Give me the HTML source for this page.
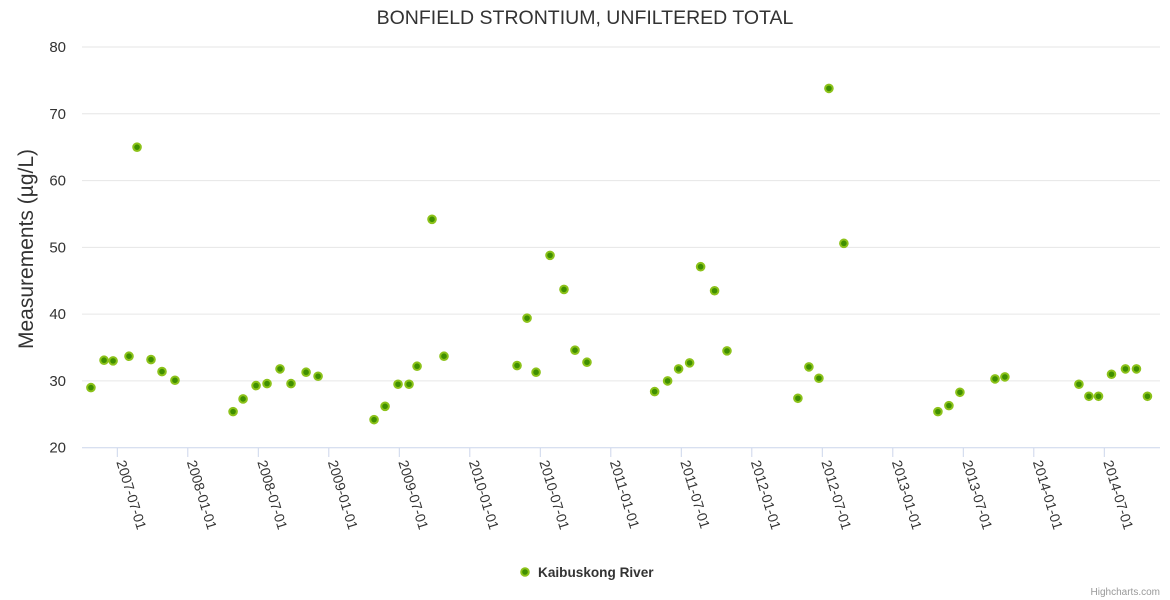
<!DOCTYPE html>
<html><head><meta charset="utf-8"><style>
body{margin:0;background:#fff;}
svg{display:block;font-family:"Liberation Sans",sans-serif;}
</style></head><body>
<svg id="chart" width="1170" height="600">
<text x="585" y="24" text-anchor="middle" font-size="19.5" fill="#333">BONFIELD STRONTIUM, UNFILTERED TOTAL</text>
<text transform="translate(33,249) rotate(-90)" text-anchor="middle" font-size="21" fill="#333">Measurements (µg/L)</text>
<g id="grid"></g><g id="xaxis"></g><g id="pts"></g>
<g>
<circle cx="525" cy="572" r="3.8" fill="#3f8f00" stroke="#8cc21a" stroke-width="2"/>
<text x="538" y="577" font-size="13.6" font-weight="bold" fill="#333">Kaibuskong River</text>
</g>
<text x="1160" y="595" text-anchor="end" font-size="10" fill="#999">Highcharts.com</text>
</svg>
<script>
const yTicks=[20,30,40,50,60,70,80];
const xTickLabels=["2007-07-01","2008-01-01","2008-07-01","2009-01-01","2009-07-01","2010-01-01","2010-07-01","2011-01-01","2011-07-01","2012-01-01","2012-07-01","2013-01-01","2013-07-01","2014-01-01","2014-07-01"];
const xTickYears=[2007.5,2008,2008.5,2009,2009.5,2010,2010.5,2011,2011.5,2012,2012.5,2013,2013.5,2014,2014.5];
const sampleYears=[2007.313,2007.406,2007.470,2007.583,2007.640,2007.739,2007.817,2007.909,2008.321,2008.392,2008.484,2008.562,2008.654,2008.732,2008.839,2008.924,2009.321,2009.399,2009.491,2009.569,2009.626,2009.732,2009.817,2010.335,2010.406,2010.470,2010.569,2010.668,2010.746,2010.831,2011.311,2011.403,2011.481,2011.559,2011.637,2011.736,2011.824,2012.327,2012.405,2012.476,2012.547,2012.653,2013.320,2013.398,2013.476,2013.725,2013.795,2014.320,2014.391,2014.459,2014.551,2014.650,2014.728,2014.806];
const values=[29.0,33.1,33.0,33.7,65.0,33.2,31.4,30.1,25.4,27.3,29.3,29.6,31.8,29.6,31.3,30.7,24.2,26.2,29.5,29.5,32.2,54.2,33.7,32.3,39.4,31.3,48.8,43.7,34.6,32.8,28.4,30.0,31.8,32.7,47.1,43.5,34.5,27.4,32.1,30.4,73.8,50.6,25.4,26.3,28.3,30.3,30.6,29.5,27.7,27.7,31.0,31.8,31.8,27.7];
const NS="http://www.w3.org/2000/svg";
const X0=82,X1=1160;
function xs(t){return 117.3+(t-2007.5)*141;}
function ys(v){return 447.7-(v-20)*(400.7/60);}
function mk(tag,a,p){const e=document.createElementNS(NS,tag);for(const k in a)e.setAttribute(k,a[k]);p.appendChild(e);return e;}
const grid=document.getElementById('grid');
yTicks.forEach(v=>{
  const l=mk('line',{x1:X0,x2:X1,y1:ys(v),y2:ys(v),stroke:v===20?'#ccd6eb':'#e6e6e6','stroke-width':1},grid);
  
  
  const t=mk('text',{x:66,y:ys(v)+5,'text-anchor':'end','font-size':15,fill:'#333'},grid);
  t.textContent=v;
  
  
});
const xa=document.getElementById('xaxis');
xTickYears.forEach((t,i)=>{
  const x=xs(t);
  const l=mk('line',{x1:x,x2:x,y1:447.7,y2:457,stroke:'#ccd6eb'},xa);
  
  
  const tx=mk('text',{transform:`translate(${x-1},462) rotate(73)`,'font-size':14,fill:'#333'},xa);
  tx.textContent=xTickLabels[i];
  
  
});
const pts=document.getElementById('pts');
values.forEach((v,i)=>{
  const c=mk('circle',{cx:xs(sampleYears[i]),cy:ys(v),r:3.8,fill:'#3f8f00',stroke:'#8cc21a','stroke-width':2},pts);
  
  
});
</script>
</body></html>
